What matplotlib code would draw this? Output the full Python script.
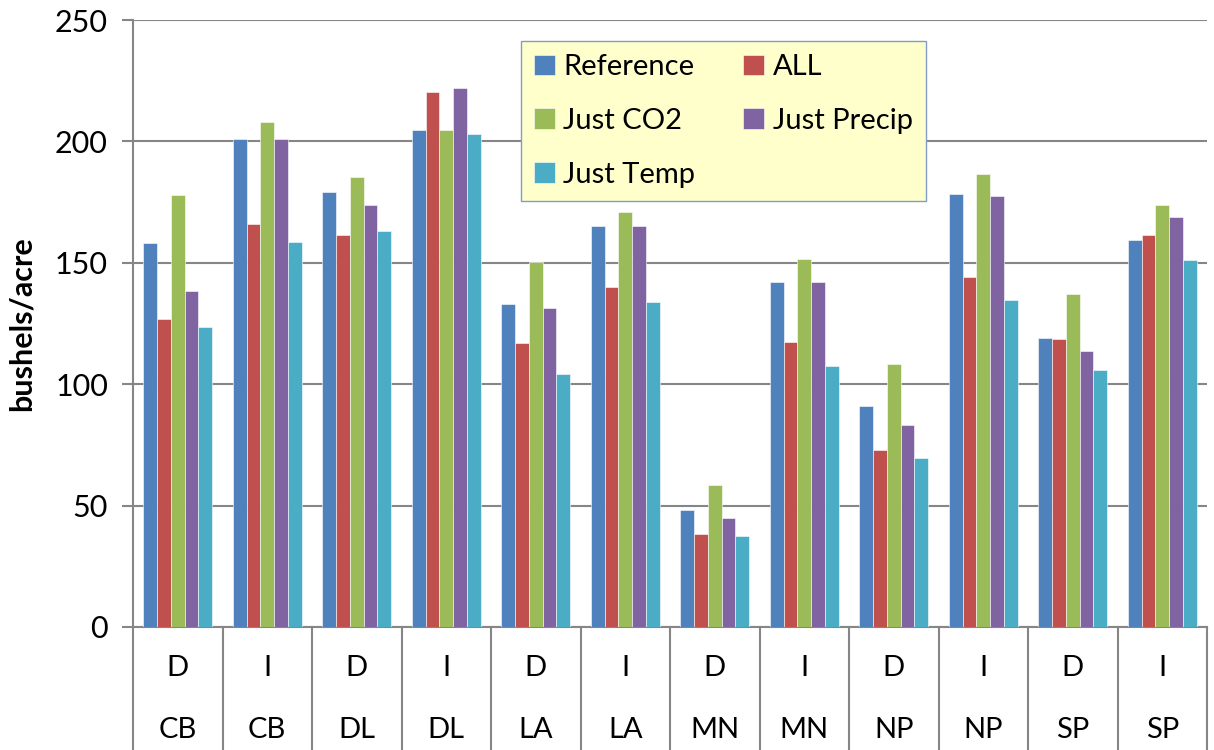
import numpy as np
import matplotlib.pyplot as plt
from matplotlib.transforms import blended_transform_factory

plt.rcParams['font.family'] = ['Lato', 'DejaVu Sans']

# dataset
practice = ['D', 'I', 'D', 'I', 'D', 'I', 'D', 'I', 'D', 'I', 'D', 'I']
regions = ['CB', 'CB', 'DL', 'DL', 'LA', 'LA', 'MN', 'MN', 'NP', 'NP', 'SP', 'SP']
series = ['Reference', 'ALL', 'Just CO2', 'Just Precip', 'Just Temp']
reference = [158, 201, 179, 204.5, 133, 165, 48, 142, 91, 178.5, 119, 159.5]
all_changes = [127, 166, 161.5, 220.5, 117, 140, 38.5, 117.5, 73, 144, 118.5, 161.5]
just_co2 = [178, 208, 185.5, 204.5, 150.5, 171, 58.5, 151.5, 108.5, 186.5, 137, 174]
just_precip = [138.5, 201, 174, 222, 131.5, 165, 45, 142, 83, 177.5, 113.5, 169]
just_temp = [123.5, 158.5, 163, 203, 104, 134, 37.5, 107.5, 69.5, 134.5, 106, 151]
colors = ['#4F81BD', '#C0504D', '#9BBB59', '#8064A2', '#4BACC6']

W, H = 1214, 750
fig = plt.figure(figsize=(W / 100, H / 100), dpi=100)
ax = fig.add_axes([133 / W, (H - 627) / H, 1074 / W, 607 / H])

# bars: 5 per group, gap of 1.5 bar widths between groups
n = len(reference)
x = np.arange(n)
bw = 1 / 6.5
bars = []
for i, vals in enumerate([reference, all_changes, just_co2, just_precip, just_temp]):
    b = ax.bar(x + (i - 2) * bw, vals, bw, color=colors[i], label=series[i],
               edgecolor='white', linewidth=0.4, zorder=3)
    bars.append(b)

ax.set_xlim(-0.5, n - 0.5)
ax.set_ylim(0, 250)
ax.set_yticks(np.arange(0, 251, 50))
ax.tick_params(axis='y', labelsize=22, length=8, color='#868686', width=1.5, pad=10)
ax.set_xticks([])
ax.yaxis.grid(True, color='#868686', linewidth=1.5, zorder=0)
for s in ['top', 'right', 'bottom']:
    ax.spines[s].set_visible(False)
ax.spines['left'].set_color('#868686')
ax.spines['left'].set_linewidth(1.5)

ax.set_ylabel('bushels/acre', fontsize=22, fontweight='bold', labelpad=14)

# two-level category axis below the plot
tr = blended_transform_factory(ax.transData, ax.transAxes)
depth = -123 / 607
ax.plot([-0.5, n - 0.5], [0, 0], transform=tr, color='#868686', lw=1.5, clip_on=False)
for k in range(n + 1):
    ax.plot([k - 0.5, k - 0.5], [0, depth], transform=tr, color='#868686',
            lw=1.5, clip_on=False)
for k in range(n):
    ax.text(k, -41 / 607, practice[k], transform=tr, ha='center', va='center', fontsize=21)
    ax.text(k, -103 / 607, regions[k], transform=tr, ha='center', va='center', fontsize=21)

# legend filled row by row
order = [0, 2, 4, 1, 3]
leg = ax.legend([bars[i] for i in order], [series[i] for i in order], ncol=2,
                loc='upper left', bbox_to_anchor=((521 - 133) / 1074, (627 - 41) / 607),
                fontsize=21, frameon=True, fancybox=False, handlelength=0.7, handleheight=0.7,
                handletextpad=0.3, columnspacing=1.65, labelspacing=0.95, borderpad=0.45,
                borderaxespad=0)
leg.get_frame().set_facecolor('#FFFFCC')
leg.get_frame().set_edgecolor('#7F9DC8')
leg.get_frame().set_alpha(1)
leg.set_zorder(5)

plt.savefig('out.png', dpi=100)
